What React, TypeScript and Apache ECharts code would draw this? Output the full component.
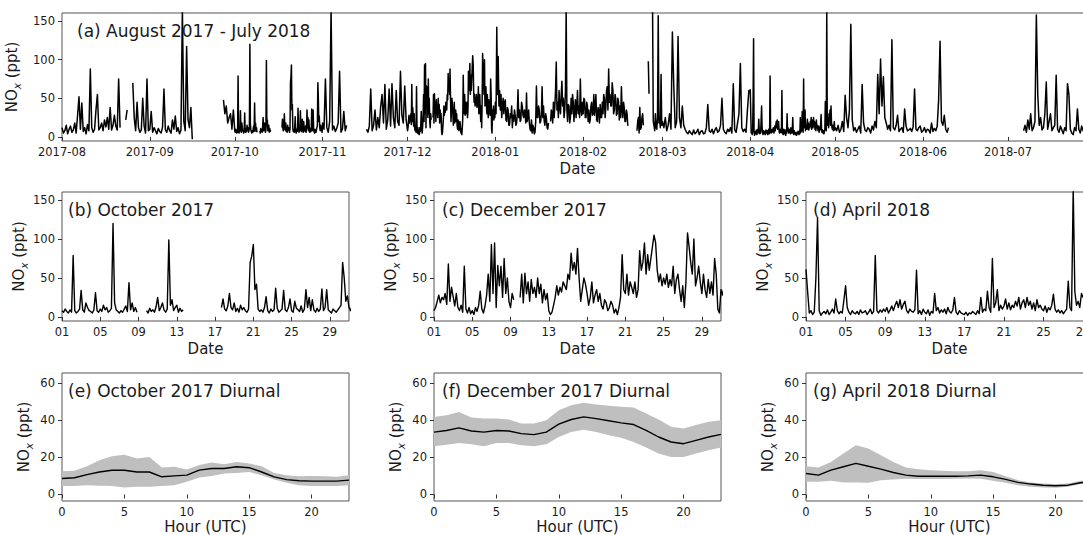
import React, { useEffect, useRef } from 'react';
import * as echarts from 'echarts';

// ---------- NOx time series (ppt) ----------
// 12-hourly values (00h, 12h per day); null = no data
const aug2017 = [
  12, 5, 8, 15, 4, 10, 14, 6, 9, 18, 5, 28, 52, 10, 44, 7, 12, 4, 16, 8,
  88, 12, 6, 10, 35, 55, 9, 12, 18, 8, 22, 13, 25, 10, 38, 9, 15, 28, 14, 9,
  75, 12, null, null, null, 22, 35, null, null, null, 70, 25, 8, 45, 12, 6, 9, 50, 14, 5,
  75, 8,
];
const sep2017 = [
  10, 33, 6, 12, 8, 4, 11, 7, 5, 13, 62, 9, 6, 14, 8, 5, 22, 10, 27, 7,
  12, 4, 9, 165, 20, 8, 117, 22, 12, 38, -3, null,
  null, null, null, null, null, null, null, null, null, null,
  null, null, null, null, null, null, null, null, null, null,
  48, 30, 40, 18, 25, 30, 10, 35,
];
// 4-hourly values (00,04,08,12,16,20h per day)
const oct2017 = [
  8, 6, 10, 7, 5, 9,
  6, 79, 8, 5, 7, 10,
  34, 9, 6, 18, 12, 8,
  7, 5, 9, 31, 8, 6,
  10, 7, 15, 9, 12, 6,
  8, 11, 120, 18, 9, 7,
  5, 8, 6, 10, 14, 7,
  44, 9, 18, 7, 12, 6,
  null, null, null, null, null, 8,
  5, 11, 7, 9, 6, 13,
  25, 8, 12, 18, 9, 6,
  10, 99, 15, 22, 8, 12,
  15, 6, 11, 7, 9, null,
  null, null, null, null, null, null,
  null, null, null, null, null, null,
  null, null, null, null, null, null,
  null, null, null, null, 12, 23,
  10, 8, 14, 30, 12, 9,
  18, 7, 11, 6, 15, 9,
  12, 8, 6, 10, 70, 78,
  93, 35, 42, 10, 7, 9,
  6, 12, 26, 8, 5, 10,
  7, 9, 37, 11, 6, 8,
  10, 34, 9, 7, 12, 23,
  8, 6, 20, 11, 9, 7,
  14, 6, 10, 35, 12, 25,
  8, 22, 9, 6, 11, 7,
  10, 36, 8, 12, 35, 9,
  7, 5, 10, 8, 6, 9,
  12, 15, 70, 50, 20, 27,
  12, 8, 15, 10, 9, 6,
];
const nov2017 = [
  18, 10, 75, 12, 6, 20, 165, 9, 14, 7, 11, 18, 85, 6, 10, 33, 8, 15,
  null, null, null, null, null, null, null, null, null, null, null, null, null, 10,
  6, 14, 62, 8, 15, 35, 9, 25, 12, 39, 55, 18, 68, 10, 22, 62, 14, 69,
  25, 12, 60, 20, 15, 85, 28, 18, 66, 22,
];
const dec2017 = [
  8, 12, 20, 28, 18, 25,
  22, 30, 16, 68, 20, 38,
  26, 14, 30, 12, 8, 15,
  6, 65, 10, 5, 12, 4,
  8, 3, 12, 7, 15, 33,
  10, 5, 14, 28, 55, 20,
  93, 30, 95, 12, 66, 40,
  65, 25, 75, 30, 50, 20,
  12, 30, 22, null, null, null,
  25, 55, 18, 56, 30, 45,
  20, 48, 30, 38, 25, 50,
  30, 42, 18, 35, 22, 30,
  8, 3, 6, 15, 25, 40,
  28, 38, 32, 45, 40, 35,
  55, 48, 82, 60, 70, 55,
  88, 50, 20, 35, 50, 42,
  30, 15, 25, 45, 18, 28,
  35, 20, 30, 15, 10, 22,
  18, 8, 12, 20, 15, 5,
  10, 3, 12, 25, 80, 35,
  30, 55, 28, 45, 38, 30,
  45, 25, 35, 85, 60, 70,
  95, 55, 80, 60, 75, 90,
  105, 95, 60, 45, 55, 40,
  50, 42, 55, 38, 48, 40,
  65, 30, 48, 55, 35, 20,
  40, 12, 45, 108, 90, 70,
  55, 100, 40, 50, 65, 45,
  30, 55, 35, 25, 48, 30,
  45, 28, 75, 55, 10, 5,
  35, 28, 40, 22, 30, 25,
];
// 6-hourly values (00,06,12,18h per day)
const jan2018 = [
  45, 30, 142, 55,
  104, 40, 60, 35,
  55, 25, 40, 50,
  30, 45, 48, 22,
  20, 38, 35, 15,
  15, 30, 25, 40,
  12, 28, 20, 35,
  28, 15, 18, 30,
  61, 25, 35, 20,
  22, 45, 40, 28,
  25, 35, 30, 18,
  57, 20, 25, 35,
  18, 10, 8, 22,
  5, 15, 12, 4,
  6, 20, 66, 25,
  25, 40, 35, 18,
  20, 30, 65, 25,
  40, 20, 15, 30,
  25, 12, 10, 18,
  null, null, 20, 35,
  30, 18, 45, 25,
  40, 60, 97, 35,
  45, 25, 60, 38,
  30, 55, 72, 40,
  50, 25, 35, 60,
  165, 35, 20, 42,
  40, 18, 25, 50,
  30, 55, 45, 20,
  35, 48, 25, 40,
  60, 30, 40, 25,
  75, 35, 28, 45,
];
const feb2018 = [
  30, 50, 48, 25,
  25, 45, 40, 20,
  35, 18, 22, 40,
  45, 28, 30, 55,
  28, 40, 55, 22,
  20, 38, 35, 18,
  42, 25, 25, 45,
  30, 55, 50, 25,
  38, 60, 65, 35,
  88, 45, 55, 40,
  40, 70, 60, 30,
  35, 55, 50, 28,
  30, 50, 45, 22,
  40, 25, 65, 35,
  25, 45, 38, 20,
  20, 35, 30, 15,
  15, null, null, null,
  null, null, null, null,
  null, null, null, null,
  8, 20, 25, 5,
  38, 10, 12, 25,
  30, 15, null, null,
  null, null, null, null,
  98, 56, null, null,
  null, null, 165, 20,
  15, 8, 30, 12,
  10, 25, 157, 18,
  25, 12, 81, 15,
];
const mar2018 = [
  20, 12, 25, 8, 15, 30, 10, 136, 65, 12, 20, 130, 25, 12, 40, 15, 10, 6, 4, 8,
  5, 3, 9, 4, 6, 10, 3, 7, 8, 4, 5, 12, 42, 8, 6, 10, 4, 9, 12, 6,
  8, 15, 50, 10, 6, 4, 10, 7, 12, 5, 69, 9, 6, 18, 30, 95, 12, 7, 10, 6,
  35, 60,
];
const apr2018 = [
  61, 32, 5, 8, 3, 6,
  50, 127, 8, 2, 5, 7,
  4, 9, 3, 6, 10, 5,
  23, 8, 4, 7, 5, 22,
  40, 12, 6, 3, 8, 5,
  4, 7, 3, 9, 5, 6,
  8, 3, 6, 10, 4, 7,
  79, 8, 5, 9, 6, 10,
  7, 12, 5, 9, 14, 8,
  15, 20, 12, 22, 10, 16,
  20, 8, 5, 10, 7, 6,
  9, 60, 4, 8, 3, 10,
  6, 4, 9, 2, 7, 5,
  30, 8, 12, 5, 9, 6,
  10, 4, 12, 7, 5, 9,
  25, 6, 3, 8, 5, 4,
  3, 6, 2, 5, 4, 7,
  5, 3, 8, 4, 25, 6,
  10, 8, 33, 12, 6, 75,
  12, 18, 35, 8, 15, 10,
  14, 23, 10, 18, 9, 15,
  12, 20, 14, 25, 10, 18,
  22, 12, 25, 15, 20, 10,
  18, 8, 22, 12, 15, 10,
  8, 14, 6, 12, 9, 15,
  29, 10, 6, 9, 5, 8,
  4, 7, 10, 46, 12, 8,
  165, 32, 15, 20, 12, 30,
  25, 35, 15, 40, 20, 12,
  10, 15, 8, 12, 20, 9,
];
const may2018 = [
  12, 8, 15, 6, 10, 20, 7, 54, 25, 12, 35, 146, 22, 8, 12, 6, 10, 14, 5, 68,
  18, 9, 7, 12, 10, 5, 14, 9, 20, 12, 81, 30, 101, 40, 78, 25, 18, 10, 15, 8,
  126, 12, 9, 15, 28, 7, 10, 12, 6, 36, 14, 8, 9, 11, 7, 13, 62, 10, 8, 12,
  14, 6,
];
const jun2018 = [
  8, 12, 6, 10, 9, 5, 18, 7, 11, 8, 14, 48, 124, 20, 15, 28, 10, 6, 12, null,
  null, null, null, null, null, null, null, null, null, null,
  null, null, null, null, null, null, null, null, null, null,
  null, null, null, null, null, null, null, null, null, null,
  null, null, null, null, null, null, null, null, null, null,
];
const jul2018 = [
  null, null, null, null, null, null, null, null, null, null, null, 8,
  15, 6, 22, 10, 30, 8, 12, 20, 158, 55, 15, 25, 9, 12, 30, 71, 10, 20,
  30, 8, 12, 15, 80, 10, 6, 14, 9, 4, 12, 8, 69, 55, 10, 5, 3, 12, 8, 36,
  10, 5, 14, 8, 6, 11, 9, 7, 12, 5, 8, null,
];

// ---------- Diurnal cycles (ppt), hours 0..23 ----------
const hours = [0, 1, 2, 3, 4, 5, 6, 7, 8, 9, 10, 11, 12, 13, 14, 15, 16, 17, 18, 19, 20, 21, 22, 23];
const octMean = [8.6, 9.0, 10.7, 12.1, 13.0, 13.0, 12.1, 12.1, 9.5, 10.0, 10.4, 13.1, 14.0, 14.0, 14.9, 14.4, 12.1, 9.5, 8.0, 7.4, 7.2, 7.2, 7.2, 7.7];
const octHigh = [12.5, 12.7, 15.2, 18.4, 20.6, 21.3, 19.3, 20.2, 14.5, 14.9, 13.4, 15.8, 17.2, 16.3, 17.5, 16.6, 15.2, 11.6, 10.4, 9.8, 10.0, 9.8, 9.5, 10.4];
const octLow = [4.5, 4.5, 5.0, 4.7, 4.5, 3.8, 4.1, 4.1, 4.5, 5.0, 6.8, 9.1, 10.0, 11.3, 11.6, 12.1, 10.4, 8.1, 6.3, 5.0, 4.5, 4.5, 4.5, 5.0];
const decMean = [33.5, 34.4, 35.8, 34.1, 33.5, 34.4, 34.1, 32.7, 32.2, 33.5, 37.8, 40.3, 41.7, 40.8, 39.6, 38.5, 37.6, 34.4, 30.9, 28.2, 27.3, 29.1, 30.9, 32.3];
const decHigh = [41.7, 42.6, 44.4, 41.4, 40.8, 40.8, 40.3, 38.1, 38.1, 39.9, 45.3, 48.0, 49.3, 48.4, 47.7, 47.1, 46.8, 43.5, 40.3, 36.4, 35.5, 37.3, 39.1, 39.9];
const decLow = [25.9, 26.8, 27.7, 27.0, 25.9, 27.7, 27.7, 26.5, 25.9, 27.0, 30.9, 33.6, 34.8, 33.6, 31.8, 30.5, 28.2, 25.2, 22.0, 20.2, 20.2, 22.0, 23.8, 25.2];
const aprMean = [11.3, 10.4, 13.1, 14.9, 16.7, 15.2, 13.6, 11.8, 10.4, 9.8, 9.8, 9.8, 9.8, 10.0, 10.4, 9.5, 8.1, 6.5, 5.6, 5.0, 4.7, 5.0, 6.3, 7.0];
const aprHigh = [15.2, 14.5, 17.5, 22.0, 26.5, 24.7, 21.1, 17.5, 14.5, 13.6, 13.0, 12.7, 12.5, 12.5, 13.0, 12.1, 9.8, 7.7, 6.5, 5.9, 5.6, 5.9, 7.4, 8.0];
const aprLow = [6.8, 6.8, 7.4, 6.5, 6.5, 6.3, 7.7, 8.1, 8.4, 8.3, 8.3, 8.3, 8.4, 8.6, 8.4, 7.4, 6.3, 5.0, 4.1, 3.8, 3.6, 4.1, 5.6, 6.0];

// ---------- Tick labels ----------
const monthTickLabels = ['2017-08', '2017-09', '2017-10', '2017-11', '2017-12', '2018-01', '2018-02', '2018-03', '2018-04', '2018-05', '2018-06', '2018-07'];
const dayTickLabels = ['01', '05', '09', '13', '17', '21', '25', '29'];
const hourTicks = [0, 5, 10, 15, 20];
const noxTicks = [0, 50, 100, 150];
const diurnalTicks = [0, 20, 40, 60];

const FONT = 'DejaVu Sans';
const SPINE = '#555555';
const TXT = '#1a1a1a';
const BAND = '#bfbfbf';

const utc = (s: string) => Date.parse(s + 'T00:00:00Z');
const toPairs = (start: string, stepH: number, vals: (number | null)[]) => {
  const t0 = utc(start);
  return vals.map((v, i) => [t0 + i * stepH * 3600000, v === null ? '-' : v]);
};
const pad2 = (n: number) => String(n).padStart(2, '0');

const yearData = [
  ...toPairs('2017-08-01', 12, aug2017),
  ...toPairs('2017-09-01', 12, sep2017),
  ...toPairs('2017-10-01', 4, oct2017),
  ...toPairs('2017-11-01', 12, nov2017),
  ...toPairs('2017-12-01', 4, dec2017),
  ...toPairs('2018-01-01', 6, jan2018),
  ...toPairs('2018-02-01', 6, feb2018),
  ...toPairs('2018-03-01', 12, mar2018),
  ...toPairs('2018-04-01', 4, apr2018),
  ...toPairs('2018-05-01', 12, may2018),
  ...toPairs('2018-06-01', 12, jun2018),
  ...toPairs('2018-07-01', 12, jul2018),
];

const App: React.FC = () => {
  const ref = useRef<HTMLDivElement>(null);

  useEffect(() => {
    if (!ref.current) return;
    const chart = echarts.init(ref.current, undefined, { renderer: 'svg' });

    const W = 287;
    const cols = [62, 434, 806];
    const grids: any[] = [
      { left: 62, top: 13, width: 1031, height: 128 },
      { left: cols[0], top: 192, width: W, height: 129 },
      { left: cols[1], top: 192, width: W, height: 129 },
      { left: cols[2], top: 192, width: W, height: 129 },
      { left: cols[0], top: 373, width: W, height: 128 },
      { left: cols[1], top: 373, width: W, height: 128 },
      { left: cols[2], top: 373, width: W, height: 128 },
    ].map((g) => ({
      ...g,
      show: true,
      borderColor: SPINE,
      borderWidth: 1,
      backgroundColor: 'transparent',
      containLabel: false,
      outerBoundsMode: 'none',
    }));

    const labelStyle = { fontFamily: FONT, fontSize: 11.5, color: TXT, lineHeight: 12 };
    const tick = (vals: number[]) => ({ show: true, length: 4, lineStyle: { color: '#333', width: 1 }, customValues: vals });
    const nameStyle = { fontFamily: FONT, fontSize: 15, color: TXT, lineHeight: 15 };

    const monthVals = monthTickLabels.map((m) => utc(m + '-01'));
    const dayVals = (ym: string) => dayTickLabels.map((d) => utc(`${ym}-${d}`));
    const monthFmt = (v: number) => {
      const d = new Date(v);
      return `${d.getUTCFullYear()}-${pad2(d.getUTCMonth() + 1)}`;
    };
    const dayFmt = (v: number) => pad2(new Date(v).getUTCDate());

    const dateAxis = (grid: number, min: number, max: number, vals: number[], fmt: (v: number) => string, gap: number) => ({
      type: 'value',
      gridIndex: grid,
      min,
      max,
      splitLine: { show: false },
      axisLine: { show: false },
      axisTick: tick(vals),
      axisLabel: { ...labelStyle, margin: 5, customValues: vals, formatter: fmt },
      name: 'Date',
      nameLocation: 'middle',
      nameGap: gap,
      nameTextStyle: nameStyle,
    });

    const isHourTick = (i: number) => hourTicks.indexOf(i) >= 0;
    const hourAxis = (grid: number) => ({
      type: 'category',
      gridIndex: grid,
      data: hours.map(String),
      boundaryGap: false,
      splitLine: { show: false },
      axisLine: { show: false },
      axisTick: { show: true, length: 4, lineStyle: { color: '#333', width: 1 }, interval: (i: number) => isHourTick(i) },
      axisLabel: { ...labelStyle, margin: 4.5, interval: (i: number) => isHourTick(i) },
      name: 'Hour (UTC)',
      nameLocation: 'middle',
      nameGap: 18.5,
      nameTextStyle: nameStyle,
    });

    const yAxis = (grid: number, min: number, max: number, vals: number[]) => ({
      type: 'value',
      gridIndex: grid,
      min,
      max,
      splitLine: { show: false },
      axisLine: { show: false },
      axisTick: tick(vals),
      axisLabel: { ...labelStyle, margin: 7, customValues: vals },
      name: '{n|NO}{s|x}{n| (ppt)}',
      nameLocation: 'middle',
      nameRotate: 90,
      nameGap: 28,
      nameTextStyle: {
        fontFamily: FONT,
        fontSize: 15,
        color: TXT,
        rich: {
          n: { fontFamily: FONT, fontSize: 15, color: TXT, lineHeight: 20, verticalAlign: 'middle' },
          s: { fontFamily: FONT, fontSize: 10.5, fontStyle: 'italic', color: TXT, lineHeight: 11, verticalAlign: 'bottom' },
        },
      },
    });

    const lineSeries = (idx: number, data: any[], width: number) => ({
      type: 'line',
      xAxisIndex: idx,
      yAxisIndex: idx,
      data,
      symbol: 'none',
      showSymbol: false,
      connectNulls: false,
      clip: true,
      silent: true,
      lineStyle: { color: '#000', width, join: 'round' },
      z: 3,
    });

    const bandSeries = (idx: number, low: number[], high: number[], mean: number[]) => [
      {
        type: 'line',
        xAxisIndex: idx,
        yAxisIndex: idx,
        stack: 'band' + idx,
        data: low,
        symbol: 'none',
        silent: true,
        lineStyle: { opacity: 0, width: 0 },
        z: 1,
      },
      {
        type: 'line',
        xAxisIndex: idx,
        yAxisIndex: idx,
        stack: 'band' + idx,
        data: high.map((h, i) => +(h - low[i]).toFixed(2)),
        symbol: 'none',
        silent: true,
        lineStyle: { opacity: 0, width: 0 },
        areaStyle: { color: BAND, opacity: 1 },
        z: 1,
      },
      {
        type: 'line',
        xAxisIndex: idx,
        yAxisIndex: idx,
        data: mean,
        symbol: 'none',
        silent: true,
        lineStyle: { color: '#000', width: 1.4 },
        z: 3,
      },
    ];

    const titleStyle = { fontFamily: FONT, fontSize: 17, fontWeight: 'normal', color: TXT, lineHeight: 17 };
    const titles = [
      { text: '(a) August 2017 - July 2018', left: 77, top: 22 },
      { text: '(b) October 2017', left: 68, top: 201 },
      { text: '(c) December 2017', left: 442, top: 201 },
      { text: '(d) April 2018', left: 813, top: 201 },
      { text: '(e) October 2017 Diurnal', left: 68, top: 382 },
      { text: '(f) December 2017 Diurnal', left: 442, top: 382 },
      { text: '(g) April 2018 Diurnal', left: 813, top: 382 },
    ].map((t) => ({ ...t, padding: 0, textStyle: titleStyle }));

    const option: any = {
      animation: false,
      backgroundColor: '#ffffff',
      textStyle: { fontFamily: FONT },
      title: titles,
      grid: grids,
      xAxis: [
        dateAxis(0, utc('2017-08-01'), utc('2018-07-31'), monthVals, monthFmt, 20.5),
        dateAxis(1, utc('2017-10-01'), utc('2017-10-31'), dayVals('2017-10'), dayFmt, 20.5),
        dateAxis(2, utc('2017-12-01'), utc('2017-12-31'), dayVals('2017-12'), dayFmt, 20.5),
        dateAxis(3, utc('2018-04-01'), utc('2018-04-30'), dayVals('2018-04'), dayFmt, 20.5),
        hourAxis(4),
        hourAxis(5),
        hourAxis(6),
      ],
      yAxis: [
        yAxis(0, -5.3, 160.5, noxTicks),
        yAxis(1, -5.3, 160.5, noxTicks),
        yAxis(2, -5.3, 160.5, noxTicks),
        yAxis(3, -5.3, 160.5, noxTicks),
        yAxis(4, -3.5, 65.3, diurnalTicks),
        yAxis(5, -3.5, 65.3, diurnalTicks),
        yAxis(6, -3.5, 65.3, diurnalTicks),
      ],
      series: [
        lineSeries(0, yearData, 1.5),
        lineSeries(1, toPairs('2017-10-01', 4, oct2017), 1.4),
        lineSeries(2, toPairs('2017-12-01', 4, dec2017), 1.4),
        lineSeries(3, toPairs('2018-04-01', 4, apr2018), 1.4),
        ...bandSeries(4, octLow, octHigh, octMean),
        ...bandSeries(5, decLow, decHigh, decMean),
        ...bandSeries(6, aprLow, aprHigh, aprMean),
      ],
    };

    chart.setOption(option);
    return () => chart.dispose();
  }, []);

  return (
    <div style={{ position: 'absolute', left: 0, top: 0, width: 1083, height: 535, overflow: 'hidden', background: '#fff' }}>
      <div ref={ref} style={{ width: 1110, height: 535 }} />
    </div>
  );
};

export default App;
